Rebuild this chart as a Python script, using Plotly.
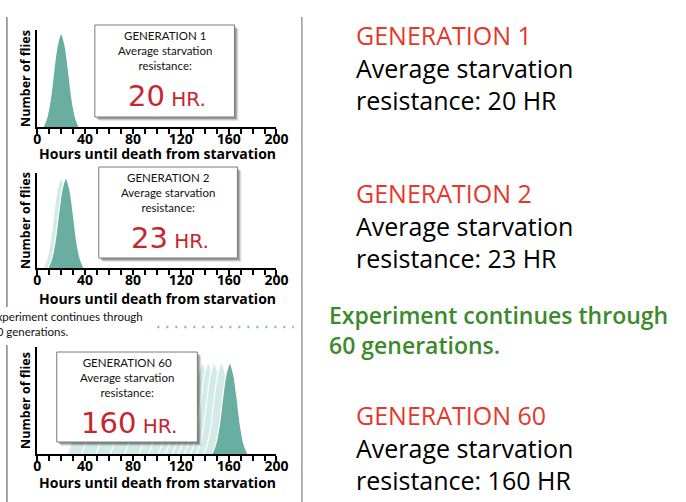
import plotly.graph_objects as go

W, H = 686, 502

# ---------------- data ----------------
x_tick_values = [0, 10, 20, 30, 40, 50, 60, 70, 80, 90, 100, 110, 120, 130, 140, 150, 160, 170, 180, 190, 200]
x_tick_labels = ["0", "", "", "", "40", "", "", "", "80", "", "", "", "120", "", "", "", "160", "", "", "", "200"]

# shape of one distribution (hours relative to its peak, relative height)
profile_offsets = [-15, -12, -9, -6, -3, 0, 3, 6, 9, 12, 15]
profile_heights = [0.0, 0.10, 0.30, 0.62, 0.89, 1.0, 0.89, 0.62, 0.30, 0.10, 0.0]

generation_names = ["GENERATION 1", "GENERATION 2", "GENERATION 60"]
avg_resistance_hr = [20, 23, 160]
peak_hours = [20, 24, 161]
ghost_peaks = [
    [],
    [20],
    [40, 52, 64, 76, 88, 100, 108, 116, 122, 128, 133, 138, 143, 148, 154],
]
y_axis_top = [1.04, 1.06, 1.18]

x_title = "Hours until death from starvation"
y_title = "Number of flies"

# ---------------- layout geometry (pixels) ----------------
axis_x = (34, 279)
panel_y = [(30, 127), (173, 268), (347, 454)]
x_title_y = [153.5, 298.5, 482.5]
boxes = [(93, 25, 236, 117), (97, 167, 239, 258), (54, 352, 198, 442)]


def fx(px):
    return px / W


def fy(py):
    return 1 - py / H


MAIN = "#6aaea2"
GHOST = "#d4eae6"
FONT_AX = "Open Sans"
FONT_TXT = "Lato"
FONT_RIGHT = "Open Sans"

fig = go.Figure()

for i in range(3):
    xa = "x" if i == 0 else f"x{i+1}"
    ya = "y" if i == 0 else f"y{i+1}"
    for g in ghost_peaks[i]:
        fig.add_trace(go.Scatter(
            x=[g + o for o in profile_offsets], y=profile_heights,
            xaxis=xa, yaxis=ya, mode="lines", line=dict(color="white", width=1.2, shape="spline"),
            fill="tozeroy", fillcolor=GHOST, showlegend=False, hoverinfo="skip"))
    fig.add_trace(go.Scatter(
        x=[peak_hours[i] + o for o in profile_offsets], y=profile_heights,
        xaxis=xa, yaxis=ya, mode="lines", line=dict(color="white", width=1.2, shape="spline"),
        fill="tozeroy", fillcolor=MAIN, showlegend=False, name=generation_names[i]))

layout = dict(
    width=W, height=H, margin=dict(l=0, r=0, t=0, b=0),
    paper_bgcolor="white", plot_bgcolor="white", showlegend=False,
)

annotations = []
for i in range(3):
    sx = "xaxis" if i == 0 else f"xaxis{i+1}"
    sy = "yaxis" if i == 0 else f"yaxis{i+1}"
    anchor_x = "y" if i == 0 else f"y{i+1}"
    anchor_y = "x" if i == 0 else f"x{i+1}"
    top, bot = panel_y[i]
    layout[sx] = dict(
        domain=[fx(axis_x[0]), fx(axis_x[1])], anchor=anchor_x, range=[0, 200],
        showline=True, linecolor="black", linewidth=2, showgrid=False, zeroline=False,
        ticks="outside", ticklen=5, tickwidth=1.5, tickcolor="black",
        tickmode="array", tickvals=x_tick_values, ticktext=x_tick_labels,
        tickfont=dict(family=FONT_AX, size=14, color="black", weight="bold"),
        ticklabelstandoff=-7,
        fixedrange=True,
    )
    layout[sy] = dict(
        domain=[fy(bot), fy(top)], anchor=anchor_y, range=[0, y_axis_top[i]],
        showline=True, linecolor="black", linewidth=2, showgrid=False, zeroline=False,
        showticklabels=False, ticks="",
        title=dict(text=y_title, standoff=2,
                   font=dict(family=FONT_AX, size=12.5, color="black", weight="bold")),
        fixedrange=True,
    )
    # x-axis title
    annotations.append(dict(
        xref="paper", yref="paper", x=fx((axis_x[0] + axis_x[1]) / 2 + 1), y=fy(x_title_y[i]),
        xanchor="center", yanchor="middle", text=x_title, showarrow=False,
        font=dict(family=FONT_AX, size=14, color="black", weight="bold")))

fig.update_layout(**layout)

shapes = []

# boxes with shadows
for i, (x0, y0, x1, y1) in enumerate(boxes):
    for off, op in [(4, 0.10), (3, 0.15), (2, 0.22)]:
        shapes.append(dict(type="rect", xref="paper", yref="paper",
                           x0=fx(x0 + off), x1=fx(x1 + off), y0=fy(y1 + off), y1=fy(y0 + off),
                           fillcolor=f"rgba(0,0,0,{op})", line=dict(width=0), layer="above"))
    shapes.append(dict(type="rect", xref="paper", yref="paper",
                       x0=fx(x0), x1=fx(x1), y0=fy(y1), y1=fy(y0),
                       fillcolor="white", line=dict(color="#7a7a7a", width=1), layer="above"))
    cx = (x0 + x1) / 2
    annotations.append(dict(
        xref="paper", yref="paper", x=fx(cx), y=fy(y0 + 25), xanchor="center", yanchor="middle",
        text=f"{generation_names[i]}<br>Average starvation<br>resistance:", showarrow=False,
        font=dict(family=FONT_TXT, size=11.5, color="#111"), align="center"))
    annotations.append(dict(
        xref="paper", yref="paper", x=fx(cx + 2), y=fy(y0 + 71), xanchor="center", yanchor="middle",
        text=f"{avg_resistance_hr[i]}<span style='font-size:20px'> HR.</span>", showarrow=False,
        font=dict(family="DejaVu Sans", size=29, color="#c5262f")))

# left border lines and divider
shapes.append(dict(type="line", xref="paper", yref="paper", x0=fx(3), x1=fx(3), y0=fy(17), y1=fy(307),
                   line=dict(color="#666", width=1.2)))
shapes.append(dict(type="line", xref="paper", yref="paper", x0=fx(3), x1=fx(3), y0=fy(345), y1=fy(502),
                   line=dict(color="#666", width=1.2)))
shapes.append(dict(type="line", xref="paper", yref="paper", x0=fx(305), x1=fx(305), y0=fy(17), y1=fy(502),
                   line=dict(color="#999", width=1.5)))
# dotted separator
shapes.append(dict(type="line", xref="paper", yref="paper", x0=fx(157), x1=fx(297), y0=fy(327), y1=fy(327),
                   line=dict(color="#7fc0b6", width=2.5, dash="2px,7px")))

annotations.append(dict(
    xref="paper", yref="paper", x=fx(-16), y=fy(324), xanchor="left", yanchor="middle",
    text="Experiment continues through<br>60 generations.", showarrow=False, align="left",
    font=dict(family=FONT_TXT, size=11.5, color="#111")))

# right-hand text blocks
right_centers = [67.5, 225, 447]
for i in range(3):
    annotations.append(dict(
        xref="paper", yref="paper", x=fx(358), y=fy(right_centers[i]), xanchor="left", yanchor="middle",
        text=(f"<span style='color:#e5372c'>{generation_names[i]}</span><br>"
              f"Average starvation<br>resistance: {avg_resistance_hr[i]} HR"),
        showarrow=False, align="left", font=dict(family=FONT_RIGHT, size=25, color="black")))

annotations.append(dict(
    xref="paper", yref="paper", x=fx(331), y=fy(330), xanchor="left", yanchor="middle",
    text="Experiment continues through<br>60 generations.", showarrow=False, align="left",
    font=dict(family=FONT_RIGHT, size=23, color="#3b8a2b", weight=600)))

fig.update_layout(shapes=shapes, annotations=annotations)
fig.write_html("out.html", post_script="document.body.style.margin='0';",
               config={"displayModeBar": False})
